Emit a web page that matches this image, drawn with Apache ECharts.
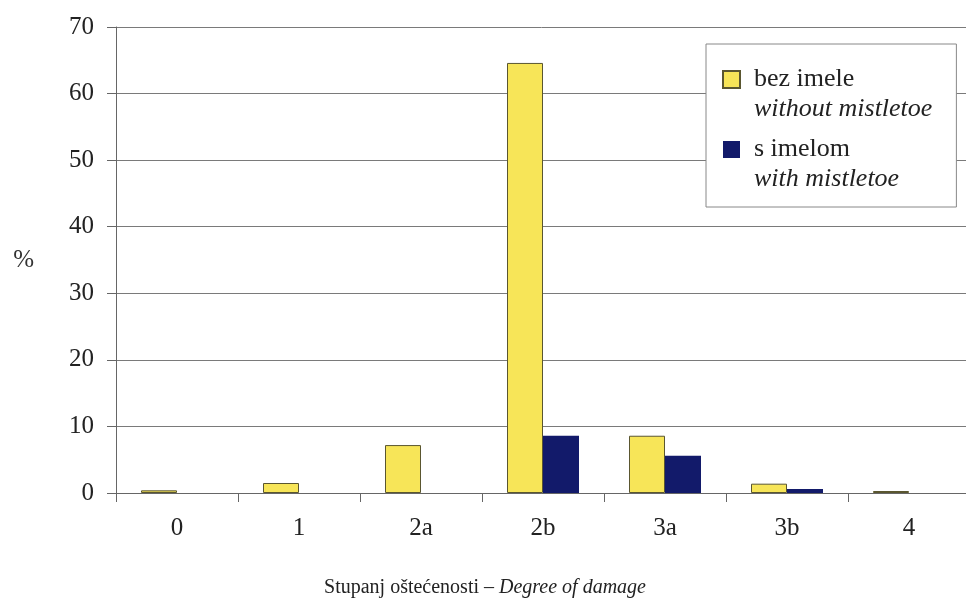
<!DOCTYPE html>
<html>
<head>
<meta charset="utf-8">
<script src="https://cdn.jsdelivr.net/npm/echarts@6/dist/echarts.min.js"></script>
<style>
  html, body { margin: 0; padding: 0; background: #fff; }
  #chart { width: 966px; height: 600px; }
</style>
</head>
<body>
<div id="chart"></div>
<script>
// Share of trees by degree of damage, with and without mistletoe
const categories = ['0', '1', '2a', '2b', '3a', '3b', '4'];
const withoutMistletoe = [0.4, 1.5, 7.2, 64.6, 8.6, 1.4, 0.3];
const withMistletoe = [0, 0, 0, 8.6, 5.6, 0.6, 0];
const yTicks = { min: 0, max: 70, interval: 10 };
const legendNames = ['bez imele', 's imelom'];
const legendSubtitles = ['without mistletoe', 'with mistletoe'];

const serif = '"Liberation Serif", "DejaVu Serif", serif';
const textColor = '#222';

// Square swatch kept at the top of a taller icon box, so it lines up
// with the first of the two legend text lines.
const swatchIcon = 'path://M0,0h17v17h-17z M0,46';

const chart = echarts.init(document.getElementById('chart'));

chart.setOption({
  backgroundColor: '#fff',
  animation: false,
  grid: { left: 116, top: 27, width: 854, height: 466, containLabel: false, outerBoundsMode: 'none' },
  legend: {
    orient: 'vertical',
    left: 706,
    top: 44,
    padding: [22, 24, 15, 16],
    borderColor: '#888',
    borderWidth: 1,
    backgroundColor: '#fff',
    itemWidth: 17,
    itemHeight: 46,
    itemGap: 14,
    icon: swatchIcon,
    selectedMode: false,
    data: legendNames.map(function (n) { return { name: n }; }),
    formatter: function (name) {
      const sub = legendSubtitles[legendNames.indexOf(name)];
      return '{a|' + name + '}\n{b|' + sub + '}';
    },
    textStyle: {
      fontFamily: serif,
      color: textColor,
      padding: [0, 0, 0, 9],
      rich: {
        a: { fontFamily: serif, fontSize: 26, lineHeight: 30, color: textColor },
        b: { fontFamily: serif, fontSize: 26, lineHeight: 30, fontStyle: 'italic', color: textColor }
      }
    }
  },
  xAxis: {
    type: 'category',
    data: categories,
    boundaryGap: true,
    axisLine: { lineStyle: { color: '#666', width: 1 } },
    axisTick: { show: true, length: 9, lineStyle: { color: '#666' } },
    axisLabel: { fontFamily: serif, fontSize: 25, color: textColor, margin: 23 },
    name: '{r|Stupanj oštećenosti – }{i|Degree of damage}',
    nameLocation: 'middle',
    nameGap: 85,
    nameTextStyle: {
      padding: [0, 116, 0, 0],
      rich: {
        r: { fontFamily: serif, fontSize: 20, color: textColor },
        i: { fontFamily: serif, fontSize: 20, fontStyle: 'italic', color: textColor }
      }
    }
  },
  yAxis: {
    type: 'value',
    min: yTicks.min,
    max: yTicks.max,
    interval: yTicks.interval,
    axisLine: { show: true, lineStyle: { color: '#666', width: 1 } },
    axisTick: { show: true, length: 9, lineStyle: { color: '#666' } },
    axisLabel: { fontFamily: serif, fontSize: 25, color: textColor, margin: 22 },
    splitLine: { show: true, lineStyle: { color: '#7a7a7a', width: 1 } },
    name: '%',
    nameLocation: 'middle',
    nameRotate: 0,
    nameGap: 82,
    nameTextStyle: { fontFamily: serif, fontSize: 25, color: '#333', padding: [12, 0, 0, 0] }
  },
  series: [
    {
      name: 'bez imele',
      type: 'bar',
      data: withoutMistletoe,
      barWidth: 36,
      barGap: '0%',
      itemStyle: { color: '#F7E558', borderColor: '#5a5630', borderWidth: 1 }
    },
    {
      name: 's imelom',
      type: 'bar',
      data: withMistletoe,
      barWidth: 36,
      barGap: '0%',
      itemStyle: { color: '#121A6A', borderWidth: 0 }
    }
  ]
});
</script>
</body>
</html>
